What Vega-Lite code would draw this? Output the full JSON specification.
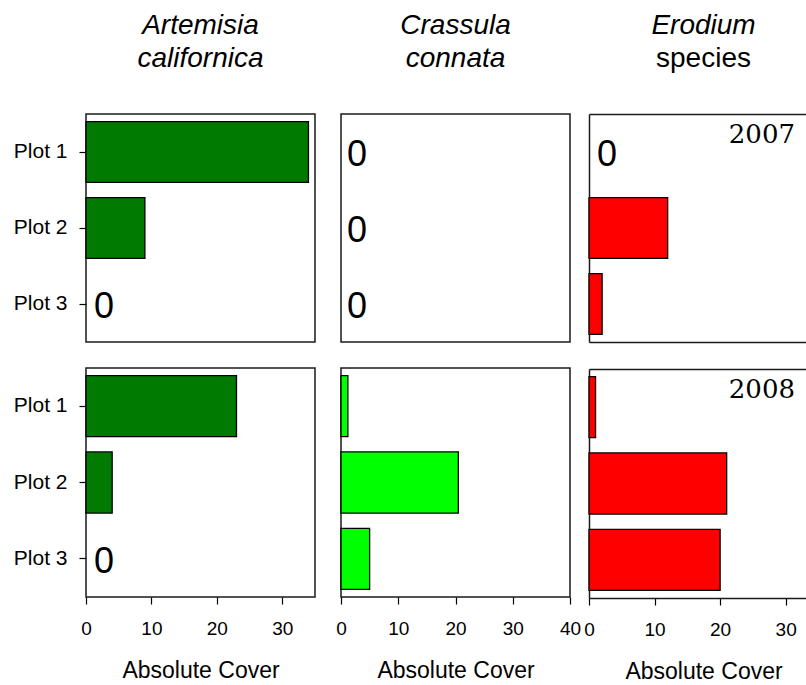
{
  "$schema": "https://vega.github.io/schema/vega-lite/v6.json",
  "background": "white",
  "padding": {"left": 12, "top": 11, "right": 0, "bottom": 0},
  "datasets": {
    "cover": [
      {"species": "Artemisia californica", "year": 2007, "plot": "Plot 1", "cover": 34},
      {"species": "Artemisia californica", "year": 2007, "plot": "Plot 2", "cover": 9},
      {"species": "Artemisia californica", "year": 2007, "plot": "Plot 3", "cover": 0},
      {"species": "Crassula connata", "year": 2007, "plot": "Plot 1", "cover": 0},
      {"species": "Crassula connata", "year": 2007, "plot": "Plot 2", "cover": 0},
      {"species": "Crassula connata", "year": 2007, "plot": "Plot 3", "cover": 0},
      {"species": "Erodium species", "year": 2007, "plot": "Plot 1", "cover": 0},
      {"species": "Erodium species", "year": 2007, "plot": "Plot 2", "cover": 12},
      {"species": "Erodium species", "year": 2007, "plot": "Plot 3", "cover": 2},
      {"species": "Artemisia californica", "year": 2008, "plot": "Plot 1", "cover": 23},
      {"species": "Artemisia californica", "year": 2008, "plot": "Plot 2", "cover": 4},
      {"species": "Artemisia californica", "year": 2008, "plot": "Plot 3", "cover": 0},
      {"species": "Crassula connata", "year": 2008, "plot": "Plot 1", "cover": 1.2},
      {"species": "Crassula connata", "year": 2008, "plot": "Plot 2", "cover": 20.5},
      {"species": "Crassula connata", "year": 2008, "plot": "Plot 3", "cover": 5},
      {"species": "Erodium species", "year": 2008, "plot": "Plot 1", "cover": 1},
      {"species": "Erodium species", "year": 2008, "plot": "Plot 2", "cover": 21},
      {"species": "Erodium species", "year": 2008, "plot": "Plot 3", "cover": 20}
    ]
  },
  "config": {
    "font": "Liberation Sans",
    "view": {"stroke": "#1a1a1a", "strokeWidth": 1.5},
    "axis": {
      "grid": false,
      "domain": false,
      "ticks": true,
      "tickColor": "black",
      "tickWidth": 1.2,
      "tickSize": 7,
      "labelColor": "black",
      "labelFont": "Liberation Sans",
      "titleColor": "black",
      "titleFont": "Liberation Sans",
      "titleFontWeight": "normal",
      "domainColor": "#1a1a1a",
      "domainWidth": 1.5
    },
    "axisY": {"labelFontSize": 21, "labelPadding": 12},
    "axisX": {"labelFontSize": 19, "labelPadding": 15, "labelFlush": false, "titleFontSize": 23, "titlePadding": 21},
    "title": {
      "font": "Liberation Sans",
      "subtitleFont": "Liberation Sans",
      "fontSize": 28,
      "subtitleFontSize": 28,
      "fontWeight": "normal",
      "subtitleFontWeight": "normal",
      "fontStyle": "italic",
      "color": "black",
      "subtitleColor": "black",
      "anchor": "middle",
      "offset": 41,
      "subtitlePadding": 5
    }
  },
  "spacing": 18,
  "hconcat": [
    {
      "spacing": 24,
      "vconcat": [
        {
          "width": 229, "height": 228,
          "title": {"text": "Artemisia", "subtitle": "californica", "subtitleFontStyle": "italic"},
          "data": {"name": "cover"},
          "transform": [{"filter": "datum.species == 'Artemisia californica' && datum.year == 2007"}],
          "encoding": {
            "y": {"field": "plot", "type": "nominal", "scale": {"paddingInner": 0.2, "paddingOuter": 0.1}, "axis": {"title": null}},
            "x": {"field": "cover", "type": "quantitative", "scale": {"domain": [0, 35], "nice": false}, "axis": null}
          },
          "layer": [
            {
              "transform": [{"filter": "datum.cover > 0"}],
              "mark": {"type": "bar", "stroke": "black", "strokeWidth": 1.3},
              "encoding": {"fill": {"field": "species", "type": "nominal", "scale": {"domain": ["Artemisia californica", "Crassula connata", "Erodium species"], "range": ["#007a00", "#00ff00", "#ff0000"]}, "legend": null}}
            },
            {
              "transform": [{"filter": "datum.cover == 0"}],
              "mark": {"type": "text", "align": "left", "baseline": "middle", "dx": 8, "dy": 3, "fontSize": 36, "color": "black"},
              "encoding": {"text": {"field": "cover"}}
            }
          ]
        },
        {
          "width": 229, "height": 229,
          "data": {"name": "cover"},
          "transform": [{"filter": "datum.species == 'Artemisia californica' && datum.year == 2008"}],
          "encoding": {
            "y": {"field": "plot", "type": "nominal", "scale": {"paddingInner": 0.2, "paddingOuter": 0.1}, "axis": {"title": null}},
            "x": {"field": "cover", "type": "quantitative", "scale": {"domain": [0, 35], "nice": false}, "axis": {"title": "Absolute Cover", "values": [0, 10, 20, 30]}}
          },
          "layer": [
            {
              "transform": [{"filter": "datum.cover > 0"}],
              "mark": {"type": "bar", "stroke": "black", "strokeWidth": 1.3},
              "encoding": {"fill": {"field": "species", "type": "nominal", "scale": {"domain": ["Artemisia californica", "Crassula connata", "Erodium species"], "range": ["#007a00", "#00ff00", "#ff0000"]}, "legend": null}}
            },
            {
              "transform": [{"filter": "datum.cover == 0"}],
              "mark": {"type": "text", "align": "left", "baseline": "middle", "dx": 8, "dy": 3, "fontSize": 36, "color": "black"},
              "encoding": {"text": {"field": "cover"}}
            }
          ]
        }
      ]
    },
    {
      "spacing": 1,
      "hconcat": [
        {
          "spacing": 24,
          "vconcat": [
            {
              "width": 229, "height": 228,
              "title": {"text": "Crassula", "subtitle": "connata", "subtitleFontStyle": "italic"},
              "data": {"name": "cover"},
              "transform": [{"filter": "datum.species == 'Crassula connata' && datum.year == 2007"}],
              "encoding": {
                "y": {"field": "plot", "type": "nominal", "scale": {"paddingInner": 0.2, "paddingOuter": 0.1}, "axis": null},
                "x": {"field": "cover", "type": "quantitative", "scale": {"domain": [0, 40], "nice": false}, "axis": null}
              },
              "layer": [
                {
                  "transform": [{"filter": "datum.cover > 0"}],
                  "mark": {"type": "bar", "stroke": "black", "strokeWidth": 1.3},
                  "encoding": {"fill": {"field": "species", "type": "nominal", "scale": {"domain": ["Artemisia californica", "Crassula connata", "Erodium species"], "range": ["#007a00", "#00ff00", "#ff0000"]}, "legend": null}}
                },
                {
                  "transform": [{"filter": "datum.cover == 0"}],
                  "mark": {"type": "text", "align": "left", "baseline": "middle", "dx": 6, "dy": 3, "fontSize": 36, "color": "black"},
                  "encoding": {"text": {"field": "cover"}}
                }
              ]
            },
            {
              "width": 229, "height": 229,
              "data": {"name": "cover"},
              "transform": [{"filter": "datum.species == 'Crassula connata' && datum.year == 2008"}],
              "encoding": {
                "y": {"field": "plot", "type": "nominal", "scale": {"paddingInner": 0.2, "paddingOuter": 0.1}, "axis": null},
                "x": {"field": "cover", "type": "quantitative", "scale": {"domain": [0, 40], "nice": false}, "axis": {"title": "Absolute Cover", "values": [0, 10, 20, 30, 40]}}
              },
              "layer": [
                {
                  "transform": [{"filter": "datum.cover > 0"}],
                  "mark": {"type": "bar", "stroke": "black", "strokeWidth": 1.3},
                  "encoding": {"fill": {"field": "species", "type": "nominal", "scale": {"domain": ["Artemisia californica", "Crassula connata", "Erodium species"], "range": ["#007a00", "#00ff00", "#ff0000"]}, "legend": null}}
                },
                {
                  "transform": [{"filter": "datum.cover == 0"}],
                  "mark": {"type": "text", "align": "left", "baseline": "middle", "dx": 6, "dy": 3, "fontSize": 36, "color": "black"},
                  "encoding": {"text": {"field": "cover"}}
                }
              ]
            }
          ]
        },
        {
          "spacing": 27,
          "vconcat": [
            {
              "width": 217, "height": 228,
              "view": {"stroke": null},
              "title": {"text": "Erodium", "subtitle": "species", "subtitleFontStyle": "normal", "dx": 6},
              "data": {"name": "cover"},
              "transform": [{"filter": "datum.species == 'Erodium species' && datum.year == 2007"}],
              "encoding": {
                "y": {"field": "plot", "type": "nominal", "scale": {"paddingInner": 0.2, "paddingOuter": 0.1}, "axis": {"title": null, "labels": false, "ticks": false, "domain": true}},
                "x": {"field": "cover", "type": "quantitative", "scale": {"domain": [0, 33.1], "nice": false}}
              },
              "layer": [
                {
                  "transform": [{"filter": "datum.cover > 0"}],
                  "mark": {"type": "bar", "stroke": "black", "strokeWidth": 1.3},
                  "encoding": {
                    "x": {"field": "cover", "type": "quantitative", "axis": {"orient": "bottom", "title": null, "labels": false, "ticks": false, "domain": true}},
                    "fill": {"field": "species", "type": "nominal", "scale": {"domain": ["Artemisia californica", "Crassula connata", "Erodium species"], "range": ["#007a00", "#00ff00", "#ff0000"]}, "legend": null}
                  }
                },
                {
                  "transform": [{"filter": "datum.cover == 0"}],
                  "mark": {"type": "text", "align": "left", "baseline": "middle", "dx": 8, "dy": 3, "fontSize": 36, "color": "black"},
                  "encoding": {
                    "x": {"field": "cover", "type": "quantitative", "axis": {"orient": "top", "title": null, "labels": false, "ticks": false, "domain": true}},
                    "text": {"field": "cover"}
                  }
                },
                {
                  "transform": [{"filter": "datum.plot == 'Plot 1'"}],
                  "mark": {"type": "text", "align": "right", "baseline": "alphabetic", "dx": -11, "dy": -9, "fontSize": 26, "font": "DejaVu Serif", "color": "black"},
                  "encoding": {"x": {"datum": 33.1, "axis": null}, "text": {"field": "year"}}
                }
              ],
              "resolve": {"axis": {"x": "independent"}}
            },
            {
              "width": 217, "height": 229,
              "view": {"stroke": null},
              "data": {"name": "cover"},
              "transform": [{"filter": "datum.species == 'Erodium species' && datum.year == 2008"}],
              "encoding": {
                "y": {"field": "plot", "type": "nominal", "scale": {"paddingInner": 0.2, "paddingOuter": 0.1}, "axis": {"title": null, "labels": false, "ticks": false, "domain": true}},
                "x": {"field": "cover", "type": "quantitative", "scale": {"domain": [0, 33.1], "nice": false}}
              },
              "layer": [
                {
                  "transform": [{"filter": "datum.cover > 0"}],
                  "mark": {"type": "bar", "stroke": "black", "strokeWidth": 1.3},
                  "encoding": {
                    "x": {"field": "cover", "type": "quantitative", "axis": {"orient": "bottom", "title": "Absolute Cover", "titleX": 114.5, "values": [0, 10, 20, 30], "domain": true}},
                    "fill": {"field": "species", "type": "nominal", "scale": {"domain": ["Artemisia californica", "Crassula connata", "Erodium species"], "range": ["#007a00", "#00ff00", "#ff0000"]}, "legend": null}
                  }
                },
                {
                  "transform": [{"filter": "datum.plot == 'Plot 1'"}],
                  "mark": {"type": "text", "align": "right", "baseline": "alphabetic", "dx": -11, "dy": -9, "fontSize": 26, "font": "DejaVu Serif", "color": "black"},
                  "encoding": {
                    "x": {"datum": 33.1, "axis": {"orient": "top", "title": null, "labels": false, "ticks": false, "domain": true}},
                    "text": {"field": "year"}
                  }
                }
              ],
              "resolve": {"axis": {"x": "independent"}}
            }
          ]
        }
      ]
    }
  ]
}
